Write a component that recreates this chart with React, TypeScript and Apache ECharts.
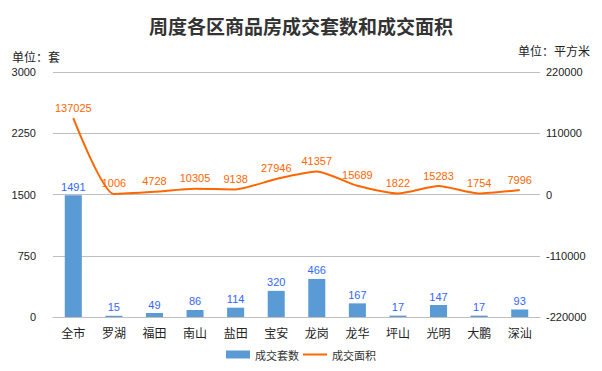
import React, { useEffect, useRef } from "react";
import * as echarts from "echarts";

const categories = ["全市", "罗湖", "福田", "南山", "盐田", "宝安", "龙岗", "龙华", "坪山", "光明", "大鹏", "深汕"];
const unitsSold = [1491, 15, 49, 86, 114, 320, 466, 167, 17, 147, 17, 93];
const areaSold = [137025, 1006, 4728, 10305, 9138, 27946, 41357, 15689, 1822, 15283, 1754, 7996];
const barName = "成交套数";
const lineName = "成交面积";
const titleText = "周度各区商品房成交套数和成交面积";
const leftUnit = "单位：套";
const rightUnit = "单位：平方米";

const FONT = "'Liberation Sans', 'Noto Sans CJK SC', sans-serif";

export default function App() {
  const ref = useRef<HTMLDivElement>(null);
  useEffect(() => {
    if (!ref.current) return;
    const chart = echarts.init(ref.current, undefined, { renderer: "svg" });
    chart.setOption({
      animation: false,
      backgroundColor: "#ffffff",
      textStyle: { fontFamily: FONT },
      title: {
        text: titleText,
        left: "center",
        top: 11,
        textStyle: { fontFamily: "'Noto Sans CJK SC', serif", fontSize: 19, fontWeight: "bold", color: "#333333" },
      },
      graphic: [
        { type: "text", left: 12, top: 50, style: { text: leftUnit, fontSize: 12, fill: "#222", fontFamily: "'Noto Sans CJK SC'" } },
        { type: "text", right: 12, top: 44, style: { text: rightUnit, fontSize: 12, fill: "#222", fontFamily: "'Noto Sans CJK SC'" } },
      ],
      legend: {
        bottom: 6,
        left: "center",
        itemWidth: 24,
        itemHeight: 8,
        itemGap: 4,
        textStyle: { fontSize: 11, color: "#333", fontFamily: "'Noto Sans CJK SC'" },
        data: [
          { name: barName, icon: "rect" },
          { name: lineName, icon: "path://M0,0 L0,0 M0,8 L0,8 M0,3 L24,3 L24,5 L0,5 Z" },
        ],
      },
      grid: { left: 53, right: 62, top: 72, bottom: 54, containLabel: false },
      xAxis: {
        type: "category",
        data: categories,
        axisLine: { lineStyle: { color: "#BFBFBF" } },
        axisTick: { show: false },
        axisLabel: { fontSize: 12, color: "#222", margin: 9, fontFamily: "'Noto Sans CJK SC'" },
      },
      yAxis: [
        {
          type: "value",
          min: 0,
          max: 3000,
          interval: 750,
          axisLine: { show: false },
          axisTick: { show: false },
          splitLine: { lineStyle: { color: "#BFBFBF" } },
          axisLabel: { fontSize: 11, color: "#222", margin: 17, formatter: (v: number) => String(v) },
        },
        {
          type: "value",
          min: -220000,
          max: 220000,
          interval: 110000,
          axisLine: { show: false },
          axisTick: { show: false },
          splitLine: { show: false },
          axisLabel: { fontSize: 11, color: "#222", margin: 6, formatter: (v: number) => String(v) },
        },
      ],
      series: [
        {
          name: barName,
          type: "bar",
          data: unitsSold,
          barWidth: "42%",
          itemStyle: { color: "#5B9BD5" },
          label: { show: true, position: "top", color: "#3366FF", fontSize: 11, distance: 3 },
        },
        {
          name: lineName,
          type: "line",
          yAxisIndex: 1,
          data: areaSold,
          smooth: 0.2,
          symbol: "circle",
          symbolSize: 0,
          showSymbol: true,
          lineStyle: { color: "#FF6600", width: 2 },
          itemStyle: { color: "#FF6600" },
          label: { show: true, position: "top", color: "#FF6600", fontSize: 11, distance: 5 },
        },
      ],
    });
    return () => chart.dispose();
  }, []);
  return <div ref={ref} style={{ width: 602, height: 371, margin: -8 }} />;
}
